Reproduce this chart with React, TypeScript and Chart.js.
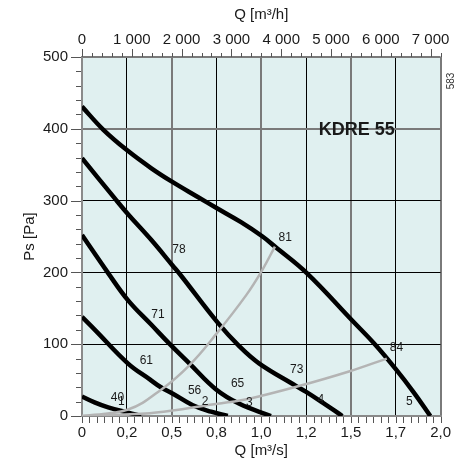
import React, { useEffect, useRef } from 'react';
import { Chart, registerables } from 'chart.js';

Chart.register(...registerables);

// Axis ticks
const X_TICKS = [0, 0.25, 0.5, 0.75, 1.0, 1.25, 1.5, 1.75, 2.0];
const X_TICK_LABELS = ['0', '0,2', '0,5', '0,8', '1,0', '1,2', '1,5', '1,7', '2,0'];
const TOP_TICKS = [0, 1000, 2000, 3000, 4000, 5000, 6000, 7000];
const TOP_TICK_LABELS = ['0', '1 000', '2 000', '3 000', '4 000', '5 000', '6 000', '7 000'];
const Y_TICKS = [0, 100, 200, 300, 400, 500];

// Fan curves (Q in m³/s, Ps in Pa)
const C1_Q = [0, 0.07, 0.146, 0.257, 0.33];
const C1_P = [27, 19, 12, 4.6, 0];

const C2_Q = [0, 0.072, 0.257, 0.378, 0.44, 0.507, 0.618, 0.72, 0.813];
const C2_P = [138, 120, 73, 51, 40, 31, 15, 6, 0];

const C3_Q = [0, 0.146, 0.257, 0.387, 0.49, 0.6, 0.748, 0.878, 1.054];
const C3_P = [252, 199, 161, 127, 100, 73, 37, 17, 0];

const C4_Q = [0, 0.183, 0.257, 0.387, 0.504, 0.554, 0.757, 0.878, 0.989, 1.193, 1.248, 1.34, 1.452];
const C4_P = [359, 303, 281, 245, 210, 195, 130, 97, 73, 42, 34, 19, 0];

const C5_Q = [0, 0.118, 0.252, 0.387, 0.504, 0.646, 0.748, 0.887, 1.007, 1.076, 1.254, 1.507, 1.637, 1.748, 1.85, 1.943];
const C5_P = [431, 399, 370, 345, 326, 305, 290, 270, 250, 236, 199, 133, 99, 66, 33, 0];

// System curves (grey)
const SA_Q = [0, 0.257, 0.443, 0.6, 0.748, 0.915, 1.007, 1.076];
const SA_P = [0, 9, 37, 71, 114, 168, 204, 236];

const SB_Q = [0, 0.378, 0.517, 0.674, 0.813, 0.933, 1.2, 1.489, 1.7];
const SB_P = [0, 4, 8, 14, 19, 24, 41, 62, 80];

// Curve annotations
const LABEL_TEXT = ['78', '71', '61', '56', '2', '65', '3', '73', '4', '81', '84', '5', '40', '1'];
const LABEL_Q = [0.541, 0.424, 0.359, 0.628, 0.687, 0.868, 0.933, 1.198, 1.332, 1.133, 1.754, 1.826, 0.198, 0.22];
const LABEL_P = [232, 140.5, 76.5, 35.2, 19.9, 44.5, 18.5, 64, 23.2, 248.7, 95.6, 19.9, 26, 19.9];

const MODEL_TEXT = 'KDRE 55';
const MODEL_Q = 1.533;
const MODEL_P = 398;
const CODE_TEXT = '583';

const FONT = 'Liberation Sans, Arial, sans-serif';
const TEXT_COLOR = '#1a1a1a';

const pts = (q: number[], p: number[]) => q.map((x, i) => ({ x, y: p[i] }));

const bgPlugin = {
  id: 'bgPlugin',
  beforeDraw(chart: any) {
    const { ctx, chartArea } = chart;
    ctx.save();
    ctx.fillStyle = '#e0f0f0';
    ctx.fillRect(chartArea.left, chartArea.top, chartArea.right - chartArea.left, chartArea.bottom - chartArea.top);
    ctx.restore();
  },
};

const annotatePlugin = {
  id: 'annotatePlugin',
  afterDatasetsDraw(chart: any) {
    const { ctx, scales, chartArea } = chart;
    const sx = scales.x;
    const sy = scales.y;
    ctx.save();
    ctx.fillStyle = TEXT_COLOR;
    ctx.textAlign = 'center';
    ctx.textBaseline = 'middle';
    ctx.font = `12px ${FONT}`;
    LABEL_TEXT.forEach((t, i) => {
      ctx.fillText(t, sx.getPixelForValue(LABEL_Q[i]), sy.getPixelForValue(LABEL_P[i]));
    });
    ctx.font = `bold 18px ${FONT}`;
    ctx.fillText(MODEL_TEXT, sx.getPixelForValue(MODEL_Q), sy.getPixelForValue(MODEL_P));
    ctx.restore();

    ctx.save();
    ctx.translate(chartArea.right + 11, chartArea.top + 24);
    ctx.rotate(-Math.PI / 2);
    ctx.font = `10px ${FONT}`;
    ctx.fillStyle = '#333';
    ctx.textAlign = 'center';
    ctx.textBaseline = 'middle';
    ctx.fillText(CODE_TEXT, 0, 0);
    ctx.restore();
  },
};

const tickPlugin = {
  id: 'tickPlugin',
  afterDraw(chart: any) {
    const { ctx, scales, chartArea } = chart;
    const { x, y, xTop } = scales;
    ctx.save();
    ctx.strokeStyle = '#555';
    ctx.lineWidth = 1;
    ctx.beginPath();
    for (let v = 0; v <= 500; v += 20) {
      const py = Math.round(y.getPixelForValue(v)) + 0.5;
      const len = v % 100 === 0 ? 10 : 5;
      ctx.moveTo(chartArea.left - 1 - len, py);
      ctx.lineTo(chartArea.left - 1, py);
    }
    for (let i = 0; i <= 48; i++) {
      const v = (i * 0.25) / 6;
      const px = Math.round(x.getPixelForValue(v)) + 0.5;
      ctx.moveTo(px, chartArea.bottom + 1);
      ctx.lineTo(px, chartArea.bottom + 7);
    }
    for (let v = 0; v <= 7200; v += 200) {
      const px = Math.round(xTop.getPixelForValue(v)) + 0.5;
      const len = v % 1000 === 0 ? 8 : 4;
      ctx.moveTo(px, chartArea.top - len);
      ctx.lineTo(px, chartArea.top);
    }
    ctx.stroke();
    ctx.restore();
  },
};

const GREY_X = [0, 0.5, 1.0, 1.5, 2.0];
const GREY_Y = [0, 400, 500];

export default function App() {
  const ref = useRef<HTMLCanvasElement | null>(null);

  useEffect(() => {
    if (!ref.current) return;
    const black = (q: number[], p: number[]) => ({
      data: pts(q, p),
      borderColor: '#000',
      borderWidth: 4.5,
      pointRadius: 0,
      fill: false,
      tension: 0.4,
      xAxisID: 'x',
      yAxisID: 'y',
    });
    const grey = (q: number[], p: number[]) => ({
      data: pts(q, p),
      borderColor: '#b4b4b4',
      borderWidth: 2.5,
      pointRadius: 0,
      fill: false,
      tension: 0.4,
      xAxisID: 'x',
      yAxisID: 'y',
    });
    const tickFont = { family: FONT, size: 15 };
    const titleFont = { family: FONT, size: 15 };
    const chart = new Chart(ref.current, {
      type: 'line',
      data: {
        datasets: [
          grey(SA_Q, SA_P),
          grey(SB_Q, SB_P),
          black(C1_Q, C1_P),
          black(C2_Q, C2_P),
          black(C3_Q, C3_P),
          black(C4_Q, C4_P),
          black(C5_Q, C5_P),
        ] as any,
      },
      options: {
        responsive: false,
        animation: false,
        events: [],
        layout: { padding: { left: 0, right: 17, top: 0, bottom: 0 } },
        plugins: { legend: { display: false }, tooltip: { enabled: false } },
        scales: {
          x: {
            type: 'linear',
            position: 'bottom',
            min: 0,
            max: 2,
            afterBuildTicks: (s: any) => {
              s.ticks = X_TICKS.map((v) => ({ value: v }));
            },
            afterFit: (s: any) => {
              s.height = 56;
            },
            ticks: {
              callback: (_v: any, i: number) => X_TICK_LABELS[i],
              font: tickFont,
              color: TEXT_COLOR,
              padding: 8,
              maxRotation: 0,
              autoSkip: false,
            },
            grid: {
              drawTicks: false,
              color: (c: any) => (GREY_X.includes(c.tick?.value) ? '#7a7a7a' : '#000'),
              lineWidth: (c: any) => (GREY_X.includes(c.tick?.value) ? 2 : 1),
            },
            border: { display: true, color: '#8a8a8a', width: 2 },
            title: {
              display: true,
              text: 'Q [m³/s]',
              font: titleFont,
              color: TEXT_COLOR,
              padding: { top: 0, bottom: 12 },
            },
          },
          xTop: {
            type: 'linear',
            position: 'top',
            min: 0,
            max: 7200,
            afterBuildTicks: (s: any) => {
              s.ticks = TOP_TICKS.map((v) => ({ value: v }));
            },
            afterFit: (s: any) => {
              s.height = 57;
            },
            ticks: {
              callback: (_v: any, i: number) => TOP_TICK_LABELS[i],
              font: tickFont,
              color: TEXT_COLOR,
              padding: 8,
              maxRotation: 0,
              autoSkip: false,
            },
            grid: { display: false, drawTicks: false },
            border: { display: false },
            title: {
              display: true,
              text: 'Q [m³/h]',
              font: titleFont,
              color: TEXT_COLOR,
              padding: { top: 6, bottom: 0 },
            },
          },
          y: {
            type: 'linear',
            position: 'left',
            min: 0,
            max: 500,
            afterBuildTicks: (s: any) => {
              s.ticks = Y_TICKS.map((v) => ({ value: v }));
            },
            afterFit: (s: any) => {
              s.width = 82;
            },
            ticks: {
              font: tickFont,
              color: TEXT_COLOR,
              padding: 14,
              autoSkip: false,
            },
            grid: {
              drawTicks: false,
              color: (c: any) => (GREY_Y.includes(c.tick?.value) ? '#7a7a7a' : '#000'),
              lineWidth: (c: any) => (GREY_Y.includes(c.tick?.value) ? 2 : 1),
            },
            border: { display: true, color: '#8a8a8a', width: 2 },
            title: {
              display: true,
              text: 'Ps [Pa]',
              font: titleFont,
              color: TEXT_COLOR,
              padding: { top: 21, bottom: 0 },
            },
          },
        },
      } as any,
      plugins: [bgPlugin, annotatePlugin, tickPlugin],
    });
    return () => chart.destroy();
  }, []);

  return (
    <div style={{ position: 'fixed', left: 0, top: 0, width: 459, height: 472, background: '#fff' }}>
      <canvas ref={ref} width={459} height={472} style={{ display: 'block' }} />
    </div>
  );
}
